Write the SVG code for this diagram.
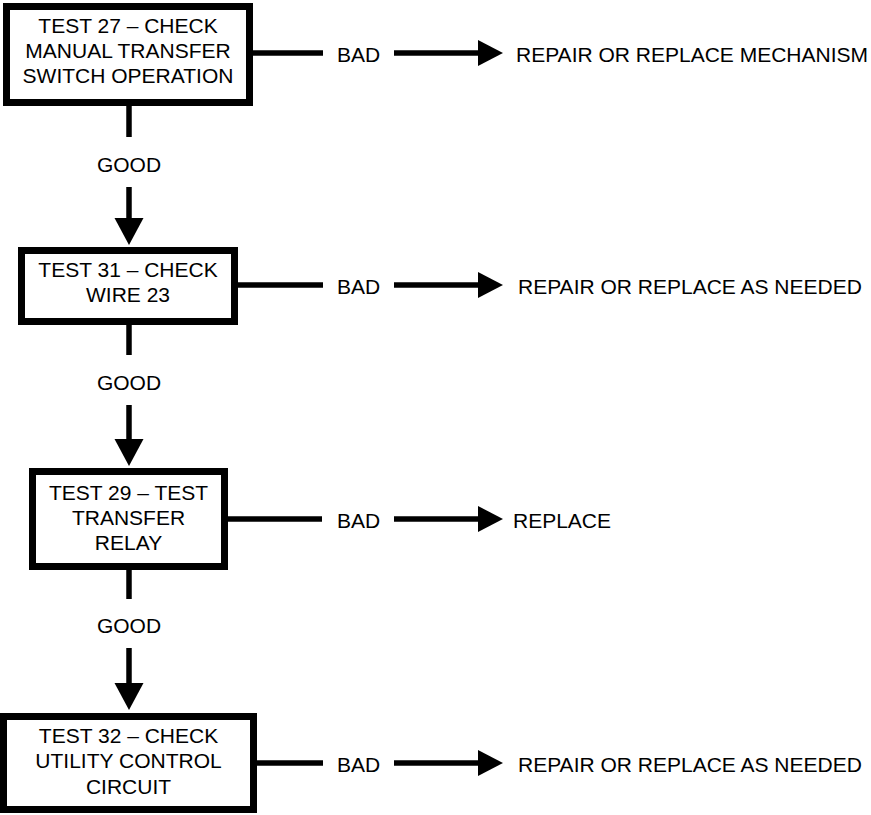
<svg xmlns="http://www.w3.org/2000/svg" width="871" height="815" viewBox="0 0 871 815">
<style>
.box{fill:#fff;stroke:#000;stroke-width:7}
.t{font-family:"Liberation Sans",Arial,sans-serif;font-size:21px;fill:#000}
.c{text-anchor:middle}
.ln{stroke:#000;stroke-width:5.5;fill:none}
.hd{fill:#000}
</style>
<rect width="871" height="815" fill="#fff"/>
<g id="connectors">
<line class="ln" x1="129" y1="106" x2="129" y2="137"/>
<text class="t c" x="129" y="172">GOOD</text>
<line class="ln" x1="129" y1="187" x2="129" y2="222"/>
<polygon class="hd" points="114.5,218 143.5,218 129,245"/>
<line class="ln" x1="129" y1="325" x2="129" y2="355"/>
<text class="t c" x="129" y="390">GOOD</text>
<line class="ln" x1="129" y1="405" x2="129" y2="443"/>
<polygon class="hd" points="114.5,439 143.5,439 129,466"/>
<line class="ln" x1="129" y1="570" x2="129" y2="599"/>
<text class="t c" x="129" y="633">GOOD</text>
<line class="ln" x1="129" y1="648" x2="129" y2="687"/>
<polygon class="hd" points="114.5,683 143.5,683 129,710"/>

<line class="ln" x1="253" y1="53" x2="323" y2="53"/>
<text class="t" x="337" y="62">BAD</text>
<line class="ln" x1="394" y1="53" x2="482" y2="53"/>
<polygon class="hd" points="478,40 503,53 478,66"/>
<text class="t" x="516" y="62">REPAIR OR REPLACE MECHANISM</text>

<line class="ln" x1="238" y1="285" x2="323" y2="285"/>
<text class="t" x="337" y="294">BAD</text>
<line class="ln" x1="394" y1="285" x2="482" y2="285"/>
<polygon class="hd" points="478,272 503,285 478,298"/>
<text class="t" x="518" y="294">REPAIR OR REPLACE AS NEEDED</text>

<line class="ln" x1="228" y1="519" x2="322" y2="519"/>
<text class="t" x="337" y="528">BAD</text>
<line class="ln" x1="394" y1="519" x2="482" y2="519"/>
<polygon class="hd" points="478,506 503,519 478,532"/>
<text class="t" x="513" y="528">REPLACE</text>

<line class="ln" x1="257" y1="763" x2="323" y2="763"/>
<text class="t" x="337" y="772">BAD</text>
<line class="ln" x1="394" y1="763" x2="482" y2="763"/>
<polygon class="hd" points="478,750 503,763 478,776"/>
<text class="t" x="518" y="772">REPAIR OR REPLACE AS NEEDED</text>
</g>
<g id="test27">
<rect class="box" x="6.5" y="6.5" width="243" height="96"/>
<text class="t c" x="128" y="33">TEST 27 – CHECK</text>
<text class="t c" x="128" y="58">MANUAL TRANSFER</text>
<text class="t c" x="128" y="83">SWITCH OPERATION</text>
</g>
<g id="test31">
<rect class="box" x="21.5" y="250.5" width="213" height="71"/>
<text class="t c" x="128" y="277">TEST 31 – CHECK</text>
<text class="t c" x="128" y="302">WIRE 23</text>
</g>
<g id="test29">
<rect class="box" x="32.5" y="471.5" width="192" height="95"/>
<text class="t c" x="128.5" y="500">TEST 29 – TEST</text>
<text class="t c" x="128.5" y="525">TRANSFER</text>
<text class="t c" x="128.5" y="550">RELAY</text>
</g>
<g id="test32">
<rect class="box" x="3.5" y="716.5" width="250" height="93"/>
<text class="t c" x="128.5" y="743">TEST 32 – CHECK</text>
<text class="t c" x="128.5" y="768">UTILITY CONTROL</text>
<text class="t c" x="128.5" y="794">CIRCUIT</text>
</g>
</svg>
